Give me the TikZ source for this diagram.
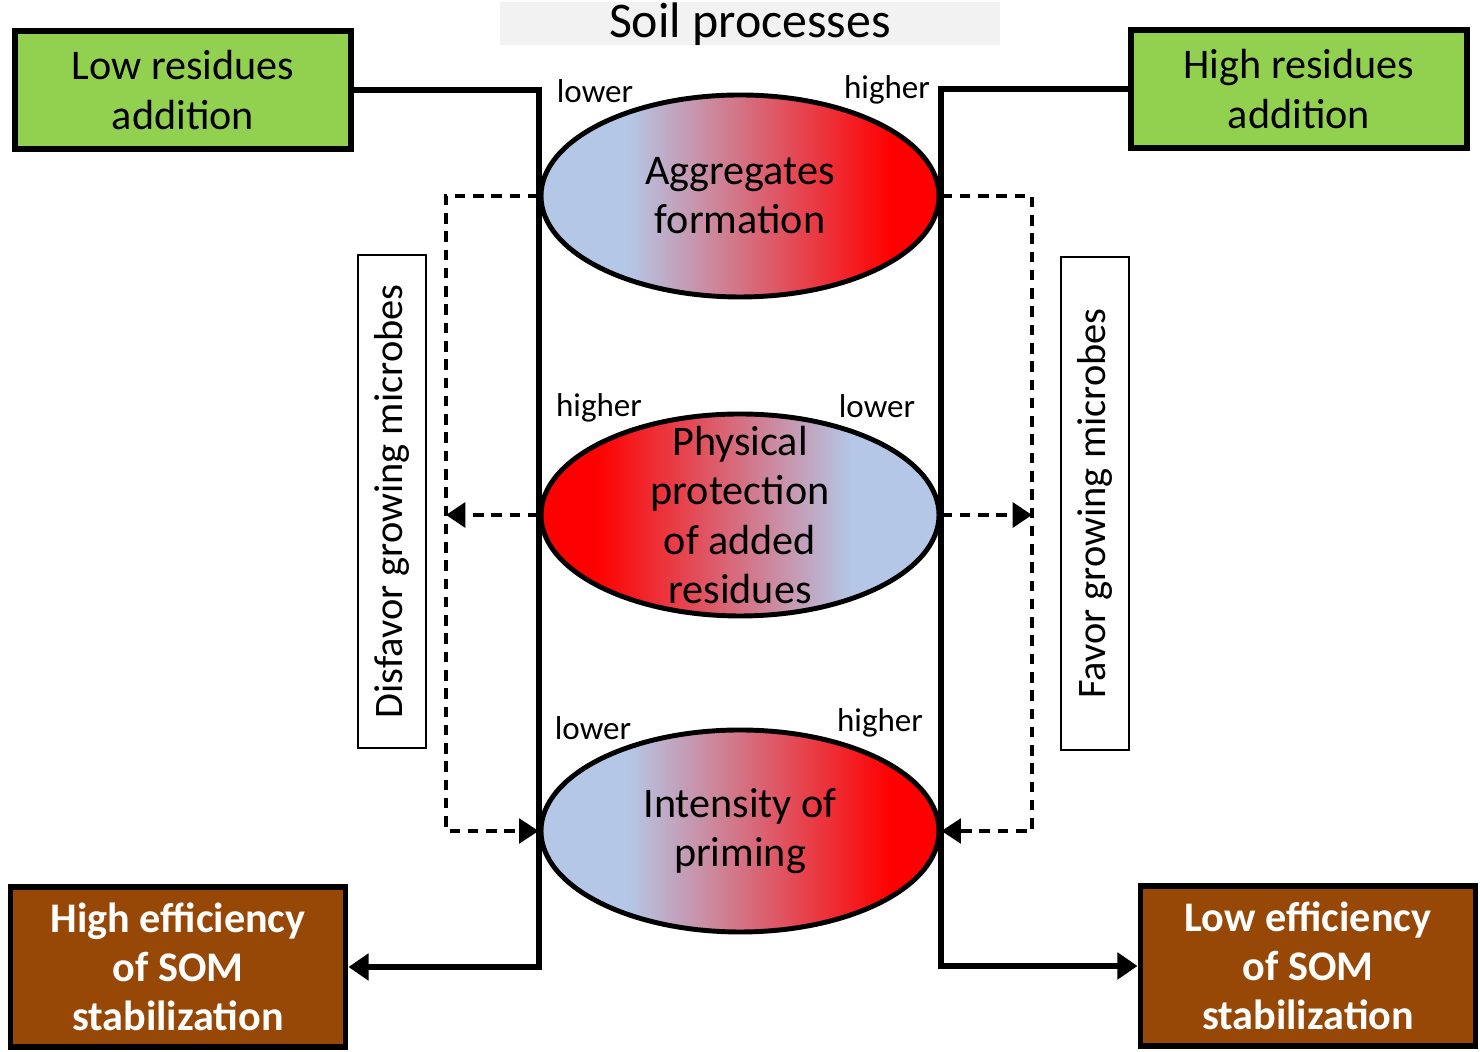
\documentclass[tikz,border=0pt]{standalone}
\usepackage{fontspec}
\setmainfont{Carlito}
\usepackage{tikz}
\usetikzlibrary{positioning,calc}
\usetikzlibrary{arrows.meta,shapes.geometric}
\definecolor{LeafGreen}{RGB}{146,208,80}
\definecolor{SoilBrown}{RGB}{151,72,6}
\definecolor{SoftBlue}{RGB}{180,199,231}
\definecolor{PureRed}{RGB}{255,0,0}
\definecolor{SoftGray}{RGB}{242,242,242}
\pgfdeclarehorizontalshading{bluered}{100bp}{color(0bp)=(SoftBlue); color(36bp)=(SoftBlue); color(69bp)=(PureRed); color(100bp)=(PureRed)}
\pgfdeclarehorizontalshading{redblue}{100bp}{color(0bp)=(PureRed); color(32bp)=(PureRed); color(64bp)=(SoftBlue); color(100bp)=(SoftBlue)}
\tikzset{
  addbox/.style={rectangle,draw=black,fill=LeafGreen,line width=1.7pt,minimum width=3.36cm,minimum height=1.18cm,
    align=center,font=\fontsize{12}{14}\selectfont},
  sombox/.style={rectangle,draw=black,fill=SoilBrown,line width=1.7pt,minimum width=3.35cm,minimum height=1.6cm,
    align=center,text=white,font=\fontsize{12}{14}\selectfont\bfseries},
  blob/.style={ellipse,draw=black,line width=1.4pt,inner sep=0pt,minimum width=3.98cm,minimum height=2.02cm},
  btext/.style={align=center,font=\fontsize{12}{14}\selectfont},
  tag/.style={font=\fontsize{9.4}{11}\selectfont,inner sep=1pt},
  sidebox/.style={rectangle,draw=black,line width=0.6pt,rotate=90,minimum width=4.93cm,minimum height=0.68cm,
    font=\fontsize{11.5}{14}\selectfont},
}
\tikzset{conn/.style={draw=black,line width=1.7pt}, tipS/.style={-{Triangle[length=5.7pt,width=7.4pt]}},
  dconn/.style={draw=black,line width=0.9pt,dash pattern=on 3pt off 2.2pt}, tipD/.style={-{Triangle[length=5.5pt,width=7pt]}}}

\begin{document}
\begin{tikzpicture}
\useasboundingbox (0,0) rectangle (14.8,-10.52);
% title
\node[fill=SoftGray,minimum width=5cm,minimum height=0.43cm,inner sep=0pt,text height=9.95pt,text depth=2.25pt,
  font=\fontsize{14.2}{16}\selectfont] (title) at (7.50,-0.235) {Soil processes};
% inputs and outputs
\node[addbox] (lowres) at (1.83,-0.90) {Low residues\\addition};
\node[addbox] (highres) at (12.99,-0.89) {High residues\\addition};
\node[sombox] (highsom) at (1.78,-9.67) {High efficiency\\of SOM\\stabilization};
\node[sombox] (lowsom) at (13.08,-9.66) {Low efficiency\\of SOM\\stabilization};
% processes
\node[blob,shading=bluered] (agg) at (7.40,-1.96) {};
\node[blob,shading=redblue] (phys) at (7.40,-5.15) {};
\node[blob,shading=bluered] (prim) at (7.40,-8.31) {};
\node[btext] (aggtxt) at (agg) {Aggregates\\formation};
\node[btext] (phystxt) at (phys) {Physical\\protection\\of added\\residues};
\node[btext] (primtxt) at (prim) {Intensity of\\priming};
\node[tag] (aggL) at (5.95,-0.91) {lower};
\node[tag] (aggR) at (8.87,-0.90) {higher};
\node[tag] (physL) at (5.99,-4.08) {higher};
\node[tag] (physR) at (8.77,-4.06) {lower};
\node[tag] (primL) at (5.93,-7.28) {lower};
\node[tag] (primR) at (8.80,-7.23) {higher};
% microbes
\node[sidebox] (disfav) at (3.92,-5.015) {Disfavor growing microbes};
\node[sidebox] (fav) at (10.95,-5.035) {Favor growing microbes};
\coordinate (lmid) at (4.46,-5.15);
\coordinate (rmid) at (10.32,-5.15);
% connectors
\draw[conn,tipS] (lowres.east) -| (agg.west) |- (highsom.east);
\draw[conn,tipS] (highres.west) -| (agg.east) |- (lowsom.west);
\draw[dconn,tipD] (agg.west) -| (lmid) |- (prim.west);
\draw[dconn,tipD] (agg.east) -| (rmid) |- (prim.east);
\draw[dconn,tipD,line width=1.3pt] (phys.west) -- (lmid);
\draw[dconn,tipD,line width=1.3pt] (phys.east) -- (rmid);
\end{tikzpicture}
\end{document}
